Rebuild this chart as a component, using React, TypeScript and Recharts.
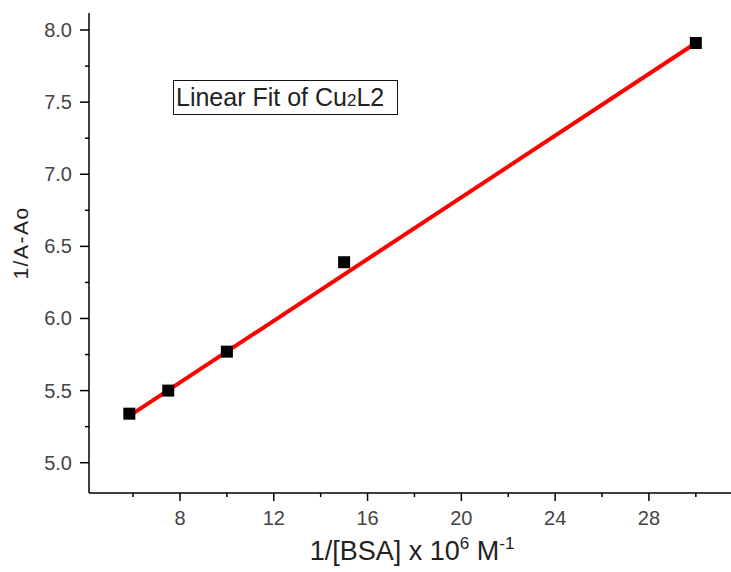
import React from "react";
import {
  ComposedChart,
  Line,
  Scatter,
  XAxis,
  YAxis,
} from "recharts";

// measured points
const xValues = [5.84, 7.5, 10, 15, 30];
const yValues = [5.34, 5.5, 5.77, 6.39, 7.91];

// linear fit end points
const fitX = [5.84, 30];
const fitY = [5.325, 7.91];

const xTicks = [6, 8, 10, 12, 14, 16, 18, 20, 22, 24, 26, 28, 30];
const xMajor = [8, 12, 16, 20, 24, 28];
const yTicks = [5.0, 5.25, 5.5, 5.75, 6.0, 6.25, 6.5, 6.75, 7.0, 7.25, 7.5, 7.75, 8.0];
const yMajor = [5.0, 5.5, 6.0, 6.5, 7.0, 7.5, 8.0];

const points = xValues.map((x, i) => ({ x, y: yValues[i] }));
const fit = fitX.map((x, i) => ({ x, y: fitY[i] }));

const FONT = "'Liberation Sans', Arial, sans-serif";
const TICK_COLOR = "#444";

const XTick = (props: any) => {
  const { x, y, payload } = props;
  const major = xMajor.includes(payload.value);
  return (
    <g>
      <line x1={x} x2={x} y1={y} y2={y + (major ? 8 : 4)} stroke="#000" strokeWidth={1.5} />
      {major && (
        <text x={x} y={y + 32} textAnchor="middle" fontSize={20} fill={TICK_COLOR} fontFamily={FONT}>
          {payload.value}
        </text>
      )}
    </g>
  );
};

const YTick = (props: any) => {
  const { x, y, payload } = props;
  const major = yMajor.includes(payload.value);
  return (
    <g>
      <line x1={x} x2={x - (major ? 9 : 4)} y1={y} y2={y} stroke="#000" strokeWidth={1.5} />
      {major && (
        <text x={x - 17} y={y + 7} textAnchor="end" fontSize={20} fill={TICK_COLOR} fontFamily={FONT}>
          {payload.value.toFixed(1)}
        </text>
      )}
    </g>
  );
};

const Square = (props: any) => {
  const { cx, cy } = props;
  return <rect x={cx - 6} y={cy - 6} width={12} height={12} fill="#000" />;
};

export default function App() {
  return (
    <div style={{ position: "absolute", left: 0, top: 0, width: 731, height: 572, background: "#fff" }}>
      <ComposedChart width={731} height={572} margin={{ top: 13, right: 0, bottom: 0, left: 0 }}>
        <XAxis
          dataKey="x"
          type="number"
          domain={[4.12, 31.5]}
          ticks={xTicks}
          interval={0}
          allowDataOverflow
          height={79}
          tickSize={0}
          tickMargin={0}
          tickLine={false}
          axisLine={{ stroke: "#000", strokeWidth: 1.5 }}
          tick={<XTick />}
          label={{
            content: () => (
              <text x={412} y={560} textAnchor="middle" fontSize={27} fill="#222" fontFamily={FONT}>
                <tspan>1/[BSA] x 10</tspan>
                <tspan fontSize={17} dy={-11}>6</tspan>
                <tspan dy={11}> M</tspan>
                <tspan fontSize={17} dy={-11}>-1</tspan>
              </text>
            ),
          }}
        />
        <YAxis
          dataKey="y"
          type="number"
          domain={[4.79, 8.118]}
          ticks={yTicks}
          interval={0}
          allowDataOverflow
          width={89}
          tickSize={0}
          tickMargin={0}
          tickLine={false}
          axisLine={{ stroke: "#000", strokeWidth: 1.5 }}
          tick={<YTick />}
          label={{
            content: () => (
              <text
                x={0}
                y={0}
                transform="translate(28 243) rotate(-90)"
                textAnchor="middle"
                fontSize={21}
                letterSpacing={1.5}
                fill="#222"
                fontFamily={FONT}
              >
                1/A-Ao
              </text>
            ),
          }}
        />
        <Line
          data={fit}
          dataKey="y"
          stroke="#ff0000"
          strokeWidth={4}
          dot={false}
          activeDot={false}
          isAnimationActive={false}
        />
        <Scatter data={points} dataKey="y" fill="#000" shape={<Square />} isAnimationActive={false} />
      </ComposedChart>
      <div
        style={{
          position: "absolute",
          left: 173,
          top: 80,
          width: 221,
          height: 33,
          border: "1.5px solid #111",
          fontFamily: FONT,
          fontSize: 25,
          color: "#222",
          lineHeight: "33px",
          paddingLeft: 2,
          boxSizing: "content-box",
          whiteSpace: "nowrap",
        }}
      >
        Linear Fit of Cu<span style={{ fontSize: 17 }}>2</span>L2
      </div>
    </div>
  );
}
